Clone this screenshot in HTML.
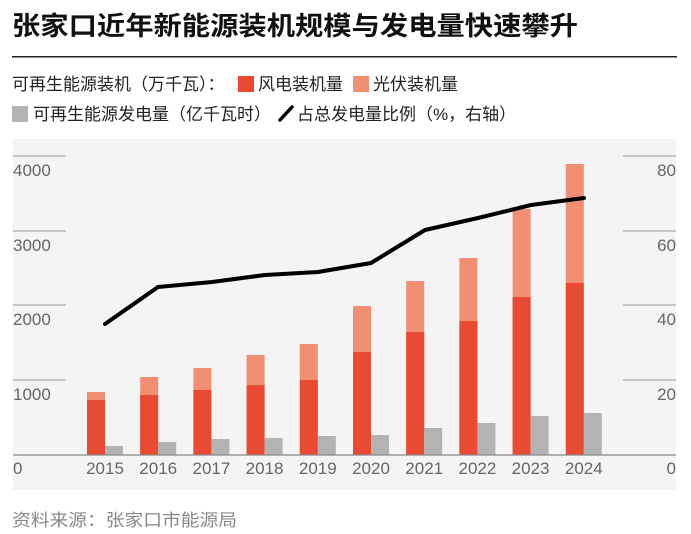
<!DOCTYPE html>
<html><head><meta charset="utf-8"><style>
body{margin:0;background:#fff;width:691px;height:534px;overflow:hidden;font-family:"Liberation Sans","Noto Sans CJK SC",sans-serif;}
</style></head><body>
<svg width="691" height="534" xmlns="http://www.w3.org/2000/svg" style="display:block">
<text x="12" y="35" font-size="26" font-weight="bold" fill="#111" textLength="566" lengthAdjust="spacingAndGlyphs" font-family="Liberation Sans, Noto Sans CJK SC, sans-serif">张家口近年新能源装机规模与发电量快速攀升</text>
<rect x="12" y="56" width="665" height="1.5" fill="#222"/>
<g font-size="17" fill="#222" font-family="Liberation Sans, Noto Sans CJK SC, sans-serif">
<text x="12" y="90">可再生能源装机（万千瓦）：</text>
<rect x="238" y="76" width="16" height="16" fill="#e84a32"/>
<text x="258" y="90">风电装机量</text>
<rect x="353" y="76" width="16" height="16" fill="#f28e72"/>
<text x="373" y="90">光伏装机量</text>
<rect x="12" y="106" width="16" height="16" fill="#b3b3b3"/>
<text x="33" y="120">可再生能源发电量（亿千瓦时）</text>
<line x1="280" y1="120" x2="292" y2="107" stroke="#000" stroke-width="3.5" stroke-linecap="round"/>
<text x="297" y="120">占总发电量比例（%，右轴）</text>
</g>
<rect x="13" y="139" width="663" height="351" fill="#f4f4f4"/>
<g stroke="#999" stroke-width="1">
<line x1="13" y1="156" x2="66" y2="156"/><line x1="13" y1="231" x2="66" y2="231"/><line x1="13" y1="305" x2="66" y2="305"/><line x1="13" y1="380" x2="66" y2="380"/>
<line x1="623" y1="156" x2="676" y2="156"/><line x1="623" y1="231" x2="676" y2="231"/><line x1="623" y1="305" x2="676" y2="305"/><line x1="623" y1="380" x2="676" y2="380"/>
</g>
<g font-size="17" fill="#666" font-family="Liberation Sans, sans-serif">
<text x="13" y="176">4000</text><text x="13" y="251">3000</text><text x="13" y="325">2000</text><text x="13" y="400">1000</text><text x="13" y="474">0</text>
<text x="676" y="176" text-anchor="end">80</text><text x="676" y="251" text-anchor="end">60</text><text x="676" y="325" text-anchor="end">40</text><text x="676" y="400" text-anchor="end">20</text><text x="676" y="474" text-anchor="end">0</text>
</g>
<g>
<rect x="87" y="392" width="18" height="63" fill="#f28e72"/><rect x="87" y="400" width="18" height="55" fill="#e84a32"/><rect x="105" y="446" width="18" height="9" fill="#b3b3b3"/>
<rect x="140.2" y="377" width="18" height="78" fill="#f28e72"/><rect x="140.2" y="395" width="18" height="60" fill="#e84a32"/><rect x="158.2" y="442" width="18" height="13" fill="#b3b3b3"/>
<rect x="193.4" y="368" width="18" height="87" fill="#f28e72"/><rect x="193.4" y="390" width="18" height="65" fill="#e84a32"/><rect x="211.4" y="439" width="18" height="16" fill="#b3b3b3"/>
<rect x="246.6" y="355" width="18" height="100" fill="#f28e72"/><rect x="246.6" y="385" width="18" height="70" fill="#e84a32"/><rect x="264.6" y="438" width="18" height="17" fill="#b3b3b3"/>
<rect x="299.8" y="344" width="18" height="111" fill="#f28e72"/><rect x="299.8" y="380" width="18" height="75" fill="#e84a32"/><rect x="317.8" y="436" width="18" height="19" fill="#b3b3b3"/>
<rect x="353" y="306" width="18" height="149" fill="#f28e72"/><rect x="353" y="352" width="18" height="103" fill="#e84a32"/><rect x="371" y="435" width="18" height="20" fill="#b3b3b3"/>
<rect x="406.2" y="281" width="18" height="174" fill="#f28e72"/><rect x="406.2" y="332" width="18" height="123" fill="#e84a32"/><rect x="424.2" y="428" width="18" height="27" fill="#b3b3b3"/>
<rect x="459.4" y="258" width="18" height="197" fill="#f28e72"/><rect x="459.4" y="321" width="18" height="134" fill="#e84a32"/><rect x="477.4" y="423" width="18" height="32" fill="#b3b3b3"/>
<rect x="512.6" y="209" width="18" height="246" fill="#f28e72"/><rect x="512.6" y="297" width="18" height="158" fill="#e84a32"/><rect x="530.6" y="416" width="18" height="39" fill="#b3b3b3"/>
<rect x="565.8" y="164" width="18" height="291" fill="#f28e72"/><rect x="565.8" y="283" width="18" height="172" fill="#e84a32"/><rect x="583.8" y="413" width="18" height="42" fill="#b3b3b3"/>
</g>
<line x1="13" y1="455" x2="676" y2="455" stroke="#888" stroke-width="1.2"/>
<polyline points="105,324 158,287 212,282 265,275 318,272 371,263 425,230 478,218 531,205 584,198" fill="none" stroke="#000" stroke-width="4" stroke-linejoin="round" stroke-linecap="round"/>
<g font-size="17" fill="#666" font-family="Liberation Sans, sans-serif" text-anchor="middle">
<text x="105" y="474">2015</text><text x="158.2" y="474">2016</text><text x="211.4" y="474">2017</text><text x="264.6" y="474">2018</text><text x="317.8" y="474">2019</text><text x="371" y="474">2020</text><text x="424.2" y="474">2021</text><text x="477.4" y="474">2022</text><text x="530.6" y="474">2023</text><text x="583.8" y="474">2024</text>
</g>
<text x="12" y="526" font-size="17" fill="#888" textLength="225" lengthAdjust="spacingAndGlyphs" font-family="Liberation Sans, Noto Sans CJK SC, sans-serif">资料来源：张家口市能源局</text>
</svg>
</body></html>
